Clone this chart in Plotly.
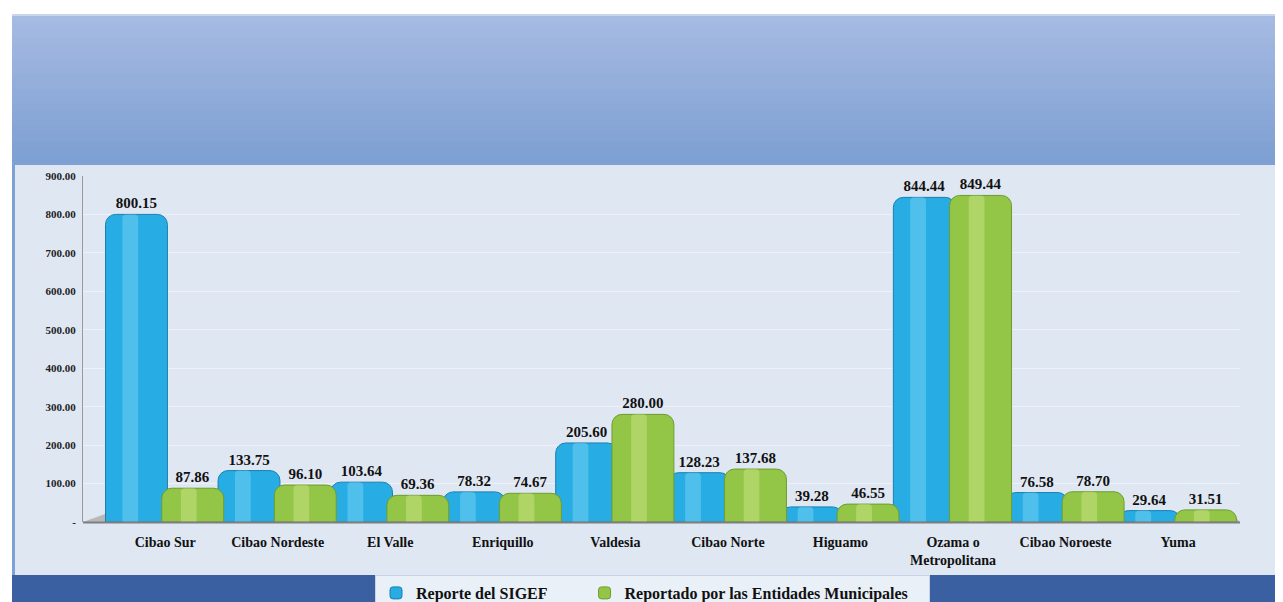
import plotly.graph_objects as go

regions = ["Cibao Sur", "Cibao Nordeste", "El Valle", "Enriquillo", "Valdesia",
           "Cibao Norte", "Higuamo", "Ozama o<br>Metropolitana", "Cibao Noroeste", "Yuma"]
sigef = [800.15, 133.75, 103.64, 78.32, 205.60, 128.23, 39.28, 844.44, 76.58, 29.64]
municipal = [87.86, 96.10, 69.36, 74.67, 280.00, 137.68, 46.55, 849.44, 78.70, 31.51]
y_ticks = [0, 100, 200, 300, 400, 500, 600, 700, 800, 900]
y_tick_text = ["-"] + [f"{v:.2f}" for v in y_ticks[1:]]

# page is 1283x602, the browser puts an 8px body margin around the figure
W, H = 1283, 602
OFF = 8
L, R, T, B = 83, 1240, 176, 522

SERIF = "Liberation Serif"


def px_x(p):
    return (p - L) / (R - L)


def px_y(p):
    return (B - p) / (B - T)


def rect(x0, y0, x1, y1, color, line=None):
    return dict(type="rect", xref="paper", yref="paper", layer="below",
                x0=px_x(x0), x1=px_x(x1), y0=px_y(y1), y1=px_y(y0),
                fillcolor=color, line=dict(width=0) if line is None else line)


shapes = []
# white page
shapes.append(rect(0, 0, W, H, "#ffffff"))
# header gradient
top_c = (166, 187, 226)
bot_c = (126, 160, 211)
steps = 20
for i in range(steps):
    f = i / (steps - 1)
    c = tuple(int(top_c[k] + (bot_c[k] - top_c[k]) * f) for k in range(3))
    y0 = 15 + i * (163 - 15) / steps
    y1 = 15 + (i + 1) * (163 - 15) / steps + 1
    shapes.append(rect(12, y0, W, y1, "rgb(%d,%d,%d)" % c))
shapes.append(rect(12, 14, W, 16, "#c9d6ee"))
# plot area band
shapes.append(rect(12, 163, W, 576, "#7fa0d2"))
shapes.append(rect(15, 165, 1278, 575, "#dfe7f3"))
# bottom band
shapes.append(rect(12, 575, W, H, "#3b60a2"))
# 3D floor
shapes.append(dict(type="path", xref="paper", yref="paper", layer="below",
                   path="M %f,%f L %f,%f L %f,%f L %f,%f Z" % (
                       px_x(L), px_y(522), px_x(105), px_y(514),
                       px_x(1232), px_y(514), px_x(1240), px_y(522)),
                   fillcolor="#b8b8b8", line=dict(width=0)))
shapes.append(dict(type="line", xref="paper", yref="paper",
                   x0=px_x(L), x1=px_x(1240), y0=px_y(522.5), y1=px_y(522.5),
                   line=dict(color="#7f7f7f", width=2)))

x_idx = list(range(len(regions)))
label_font = dict(family=SERIF, size=15, color="#111111", weight="bold")

fig = go.Figure()

fig.add_trace(go.Bar(
    x=x_idx, y=sigef, name="Reporte del SIGEF" + "\u00a0" * 8,
    offset=-0.53, width=0.55,
    marker=dict(color="#27ade3", line=dict(color="#1a7fb0", width=1), cornerradius=10),
    text=[f"{v:.2f}" for v in sigef], textposition="outside",
    textfont=label_font, cliponaxis=False,
))
fig.add_trace(go.Bar(
    x=x_idx, y=sigef, showlegend=False, hoverinfo="skip",
    offset=-0.38, width=0.14,
    marker=dict(color="rgba(140,220,250,0.4)", line=dict(width=0), cornerradius=4),
))
fig.add_trace(go.Bar(
    x=x_idx, y=municipal, name="Reportado por las Entidades Municipales" + "\u00a0" * 4,
    offset=-0.03, width=0.55,
    marker=dict(color="#93c647", line=dict(color="#6e9c2e", width=1), cornerradius=10),
    text=[f"{v:.2f}" for v in municipal], textposition="outside",
    textfont=label_font, cliponaxis=False,
))
fig.add_trace(go.Bar(
    x=x_idx, y=municipal, showlegend=False, hoverinfo="skip",
    offset=0.14, width=0.14,
    marker=dict(color="rgba(215,235,150,0.4)", line=dict(width=0), cornerradius=4),
))

fig.update_layout(
    width=W - OFF, height=H - OFF,
    margin=dict(l=L - OFF, r=W - R, t=T - OFF, b=H - B, autoexpand=False),
    barmode="overlay",
    paper_bgcolor="#ffffff",
    plot_bgcolor="rgba(0,0,0,0)",
    shapes=shapes,
    font=dict(family=SERIF, color="#111111"),
    legend=dict(
        orientation="h", x=px_x(375), y=px_y(575), xanchor="left", yanchor="top",
        bgcolor="#e9f0f8", bordercolor="#c6d3e6", borderwidth=1,
        font=dict(family=SERIF, size=16, color="#111111", weight="bold"),
        itemwidth=30, tracegroupgap=0,
    ),
    showlegend=True,
)

fig.update_xaxes(
    range=[-0.73, 9.55],
    tickmode="array", tickvals=x_idx, ticktext=["<b>%s</b>" % r for r in regions],
    tickfont=dict(family=SERIF, size=14, color="#111111"),
    showgrid=False, zeroline=False, showline=False, ticks="",
    ticklabelstandoff=10,
)
fig.update_yaxes(
    range=[0, 900],
    tickmode="array", tickvals=y_ticks, ticktext=["<b>%s</b>" % t for t in y_tick_text],
    tickfont=dict(family=SERIF, size=11, color="#222222"),
    showgrid=True, gridcolor="#eef2f8", gridwidth=1,
    zeroline=False, showline=True, linecolor="#9a9a9a", linewidth=1,
    ticks="", ticklabelstandoff=4,
)

fig.write_html("out.html")
